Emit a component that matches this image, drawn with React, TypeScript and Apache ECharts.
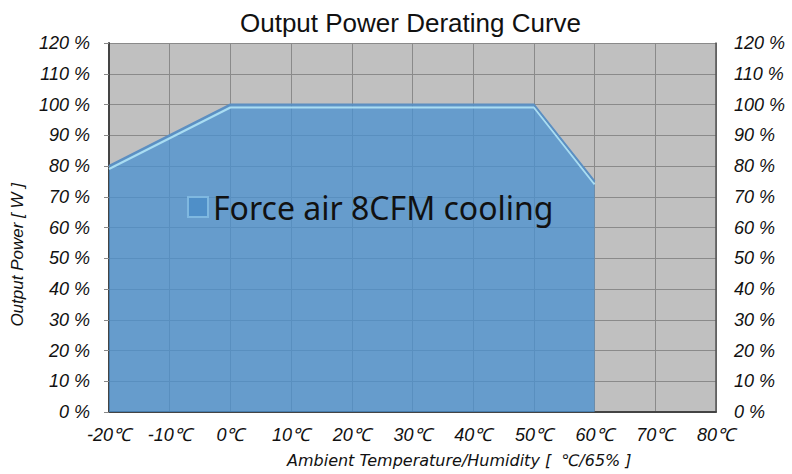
import React, { useEffect, useRef } from "react";
import * as echarts from "echarts";

const temps = [-20, 0, 50, 60];
const power = [80, 100, 100, 75];
const seriesName = "Force air 8CFM cooling";
const title = "Output Power Derating Curve";
const xName = "Ambient Temperature/Humidity [  ℃/65% ]";
const yName = "Output Power [ W ]";

export default function App() {
  const ref = useRef<HTMLDivElement>(null);
  useEffect(() => {
    if (!ref.current) return;
    const chart = echarts.init(ref.current, null, { renderer: "svg" });
    const yLabel = {
      formatter: (v: number) => `${v} %`,
      fontFamily: "Liberation Sans, Arial",
      fontStyle: "italic" as const,
      fontSize: 18,
      color: "#111",
    };
    chart.setOption({
      animation: false,
      backgroundColor: "#ffffff",
      title: {
        text: title,
        left: 235,
        top: 5,
        textStyle: { fontFamily: "Liberation Sans, Arial", fontWeight: "normal", fontSize: 26, color: "#111" },
      },
      grid: { left: 109, right: 76, top: 43, bottom: 62, show: true, backgroundColor: "#c0c0c0", borderWidth: 0 },
      legend: {
        show: true,
        left: 182,
        top: 186,
        itemWidth: 20,
        itemHeight: 20,
        icon: "rect",
        itemGap: 6,
        textStyle: { fontFamily: "Noto Sans, Open Sans", fontSize: 32, color: "#111" },
        data: [{ name: seriesName, itemStyle: { color: "#4f8fc8", borderColor: "#7fb8e0", borderWidth: 2 } }],
      },
      xAxis: {
        type: "value",
        min: -20,
        max: 80,
        interval: 10,
        axisLine: { show: true, onZero: false, lineStyle: { color: "#444", width: 2 } },
        axisTick: { show: false },
        splitLine: { show: true, lineStyle: { color: "#8a8a8a", width: 1 } },
        axisLabel: {
          formatter: (v: number) => `${v}℃`,
          fontFamily: "Liberation Sans, Arial",
          fontStyle: "italic",
          fontSize: 18,
          color: "#111",
          margin: 14,
        },
      },
      yAxis: [
        {
          type: "value",
          min: 0,
          max: 120,
          interval: 10,
          axisLine: { show: true, onZero: false, lineStyle: { color: "#444", width: 2 } },
          axisTick: { show: true, length: 5, lineStyle: { color: "#888" } },
          splitLine: { show: true, lineStyle: { color: "#8a8a8a", width: 1 } },
          axisLabel: { ...yLabel, margin: 19 },
        },
        {
          type: "value",
          min: 0,
          max: 120,
          interval: 10,
          position: "right",
          axisLine: { show: true, onZero: false, lineStyle: { color: "#555", width: 1.5 } },
          axisTick: { show: false },
          splitLine: { show: false },
          axisLabel: { ...yLabel, margin: 18 },
        },
      ],
      series: [
        {
          name: seriesName,
          type: "line",
          data: temps.map((t, i) => [t, power[i]]),
          symbol: "none",
          lineStyle: {
            color: "#5b8fc2",
            width: 2,
            shadowColor: "#a9ddf2",
            shadowOffsetY: 3,
            shadowBlur: 0,
          },
          areaStyle: { color: "rgb(72,144,208)", opacity: 0.75 },
          z: 2,
        },
      ],
      graphic: [
        {
          type: "text",
          left: 287,
          top: 452,
          style: {
            text: xName,
            fontFamily: "DejaVu Sans",
            fontStyle: "italic",
            fontSize: 16,
            fill: "#111",
          },
        },
        {
          type: "text",
          left: 9,
          top: 183,
          rotation: Math.PI / 2,
          originX: 0,
          originY: 0,
          style: {
            text: yName,
            fontFamily: "Liberation Sans, Arial",
            fontStyle: "italic",
            fontSize: 17,
            fill: "#111",
          },
        },
      ],
    });
    return () => chart.dispose();
  }, []);
  return <div ref={ref} style={{ width: 792, height: 474, position: "fixed", left: 0, top: 0 }} />;
}
